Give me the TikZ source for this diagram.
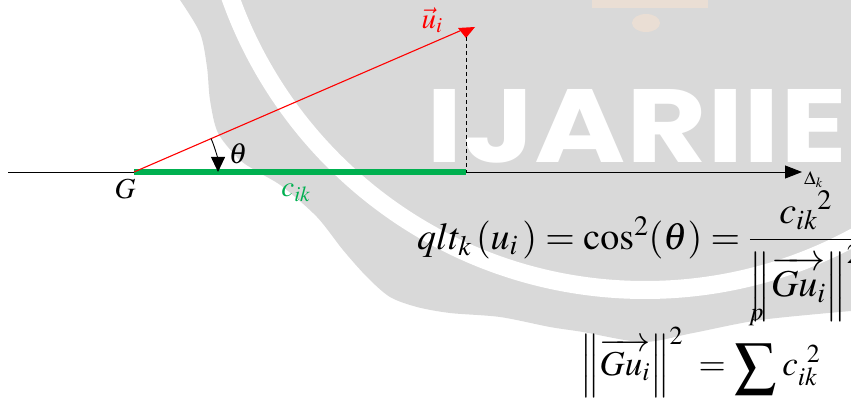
\documentclass[tikz,border=0pt]{standalone}
\usepackage{amsmath}
\usepackage[no-math]{fontspec}
\usepackage{mathptmx}
\usepackage{graphicx}
\usetikzlibrary{arrows.meta}
\newfontfamily\wmfont{Poppins}
\definecolor{wmgray}{RGB}{217,217,217}
\definecolor{wmpeach}{RGB}{234,222,212}
\definecolor{cikgreen}{RGB}{0,176,80}
\definecolor{vecred}{RGB}{255,0,0}
\newcommand{\bigsum}{\mathop{\raisebox{-9pt}{\scalebox{1.7}{$\textstyle\sum$}}}\limits}
\tikzset{
  axisline/.style={black, line width=0.9pt, -{Triangle[length=17pt,width=13pt]}},
  projline/.style={cikgreen, line width=6pt},
  vecline/.style={vecred, line width=1.1pt},
  dropline/.style={black, line width=0.9pt, dash pattern=on 4pt off 3pt},
  anglearc/.style={black, line width=0.9pt, -{Triangle[length=15pt,width=14pt]}},
  lab/.style={inner sep=0pt, font=\fontsize{29}{34}\selectfont},
  eqn/.style={anchor=base west, inner sep=0pt, font=\fontsize{38}{44}\selectfont},
  eqnb/.style={anchor=base west, inner sep=0pt, font=\fontsize{35}{40}\selectfont}
}
\begin{document}
\begin{tikzpicture}[x=1pt,y=-1pt]
\useasboundingbox (0,0) rectangle (851,398);
% watermark
\fill[wmgray] (180,0) -- (851,0) -- (851,311) -- plot[smooth] coordinates {(851,311) (760,320) (693,333) (643,342) (583,332) (550,327) (500,317) (450,313) (417,307) (390,297) (367,277) (343,250) (317,217) (283,187) (260,173) (240,160) (218,133) (210,100) (207,67) (200,33) (180,0)} -- cycle;
\begin{scope}
\clip (0,0) rectangle (851,398);
\draw[white, line width=18pt] (645,-150) circle[radius=440];
\end{scope}
\fill[wmpeach] (592,0) rectangle (708,8);
\fill[wmpeach] (646,23) ellipse[x radius=14, y radius=9];
\node[white, inner sep=0pt] (wm) at (637,126.5) {\resizebox{420pt}{73pt}{\wmfont\bfseries IJARIIE}};
% geometry
\coordinate (L) at (8,172);
\coordinate (G) at (134,172);
\coordinate (P) at (466,172);
\coordinate (E) at (802,172);
\coordinate (U) at (462,30);
\coordinate (T) at (466,37);
\coordinate (A) at (211.1,138.6);
\draw[axisline] (L) -- (E);
\draw[projline] (G) -- (P);
\draw[vecline] (G) -- (U);
\fill[vecred] (458,28) -- (475,27) -- (466,38) -- cycle;
\draw[dropline] (T) -- (P);
\draw[anglearc] (A) arc[start angle=-23.4, end angle=0, radius=84];
% labels
\node[lab] (g) at (125,189) {$G$};
\node[lab] (th) at (238,154) {$\theta$};
\node[lab, text=cikgreen] (c) at (296,193) {$c_{ik}$};
\node[lab, text=vecred] (u) at (432,20) {$\vec{u}_i$};
\node[inner sep=0pt, anchor=west, font=\fontsize{19}{23}\selectfont] (d) at (804,180) {$\Delta_k$};
% equations
\node[eqn] (eq1) at (417,249) {$qlt_k\,(u_i\,)=\cos^2(\theta)=\dfrac{c_{ik}{}^{2}}{\left\|\overrightarrow{Gu_i}\right\|^{2}}$};
\node[eqnb] (eq2) at (580,375) {$\left\|\overrightarrow{Gu_i}\right\|^{2}\;=\bigsum_{k=1}^{\raisebox{16pt}{$\scriptstyle p$}}c_{ik}^{\kern 9pt 2}$};
\end{tikzpicture}
\end{document}
